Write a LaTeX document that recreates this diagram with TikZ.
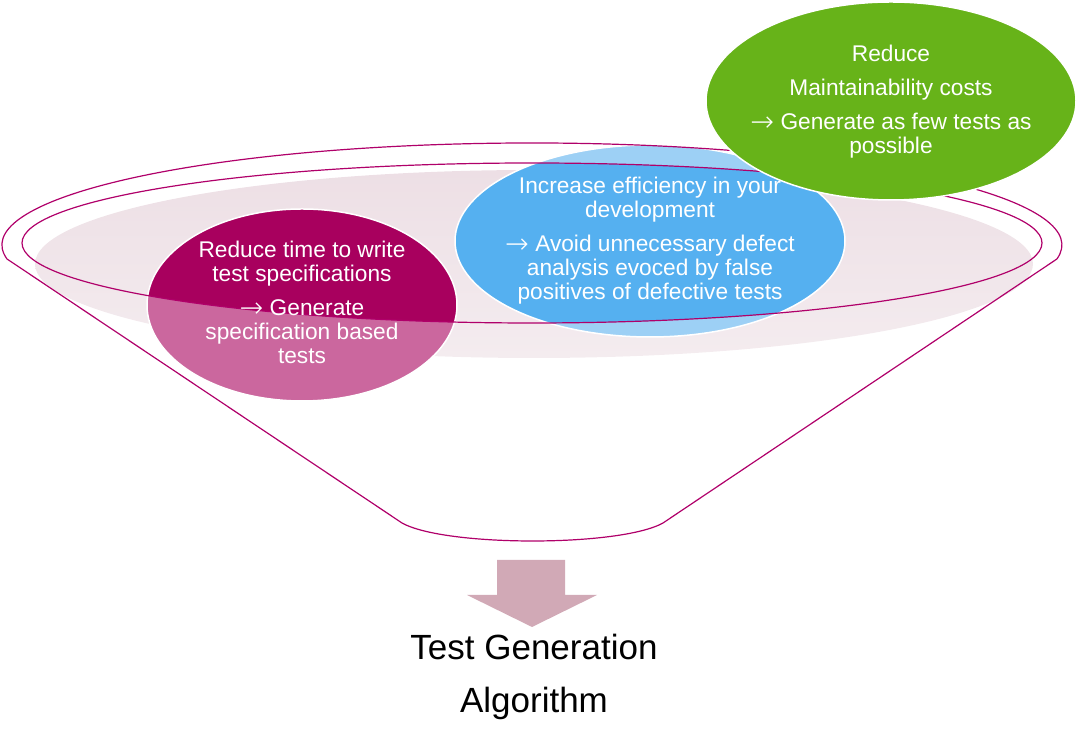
\documentclass[tikz,border=0pt]{standalone}
\usepackage{fontspec}
\usepackage{graphicx}
\setmainfont{Liberation Sans}
\newfontfamily\arrowfont{DejaVu Sans ExtraLight}
\definecolor{funnelline}{HTML}{B0006A}
\definecolor{magdark}{HTML}{A8005E}
\definecolor{maglight}{HTML}{CB679E}
\definecolor{bluedark}{HTML}{55B0F0}
\definecolor{bluelight}{HTML}{9DD0F5}
\definecolor{greenfill}{HTML}{67B319}
\definecolor{arrowfill}{HTML}{D1A9B6}
\definecolor{pinktop}{HTML}{EDDFE5}
\definecolor{pinkbot}{HTML}{F4ECEF}
\newcommand{\bstrut}{\rule[-6pt]{0pt}{23pt}}
\newcommand{\tstrut}{\rule[-8pt]{0pt}{34pt}}
\newcommand{\ra}{\raisebox{-1.8pt}{\scalebox{1.25}{\arrowfont →}}}
\tikzset{
  funnel/.style={draw=funnelline, line width=1.2pt},
  bubble/.style={draw=white, line width=1.5pt},
  bubbletext/.style={text=white, align=center, inner sep=0pt,
    font=\fontsize{22.7}{24}\selectfont},
  titletext/.style={text=black, align=center, inner sep=0pt,
    font=\fontsize{35}{53}\selectfont},
}
\begin{document}
\begin{tikzpicture}[x=1pt,y=1pt]
\useasboundingbox (0,0) rectangle (1079,743);
% background pink disc of the funnel
\shade[top color=pinktop, bottom color=pinkbot]
  (534,479) ellipse [x radius=499pt, y radius=94pt];
% bubbles (light parts)
\fill[maglight] (302,438) ellipse [x radius=155pt, y radius=96pt];
\fill[bluelight] (650,502) ellipse [x radius=195pt, y radius=96pt];
% dark parts inside the funnel rim
\begin{scope}
  \clip (532,500) ellipse [x radius=510pt, y radius=80pt];
  \fill[magdark] (302,438) ellipse [x radius=155pt, y radius=96pt];
  \fill[bluedark] (650,502) ellipse [x radius=195pt, y radius=96pt];
\end{scope}
\draw[bubble] (302,438) ellipse [x radius=155pt, y radius=96pt];
\draw[bubble] (650,502) ellipse [x radius=195pt, y radius=96pt];
% funnel rim and outline
\draw[funnel] (532,500) ellipse [x radius=510pt, y radius=80pt];
\draw[funnel] (7,484) arc[start angle=187.9, end angle=-7.9, x radius=530pt, y radius=102pt]
  -- (663,220) .. controls (620,196) and (445,196) .. (402,220) -- cycle;
% green bubble on top
\fill[greenfill, bubble] (891,642) ellipse [x radius=185pt, y radius=99pt];
% texts
\node[bubbletext] (spec) at (302,437.5) {\bstrut Reduce time to write\\ test specifications\bstrut\\[10pt]
  \bstrut\ra{} Generate\\ specification based\\ tests\bstrut};
\node[bubbletext] (eff) at (650,502) {\bstrut Increase efficiency in your\\ development\bstrut\\[10pt]
  \bstrut\ra{} Avoid unnecessary defect\\ analysis evoced by false\\ positives of defective tests\bstrut};
\node[bubbletext] (maint) at (891,641) {\bstrut Reduce\bstrut\\[10pt] \bstrut Maintainability costs\bstrut\\[10pt]
  \bstrut\ra{} Generate as few tests as\\ possible\bstrut};
% arrow
\fill[arrowfill] (497,183) -- (565,183) -- (565,148) -- (597,148) -- (532,116)
  -- (467,148) -- (497,148) -- cycle;
\node[titletext] (algo) at (534,65.5) {\tstrut Test Generation\\ Algorithm\tstrut};
\end{tikzpicture}
\end{document}
